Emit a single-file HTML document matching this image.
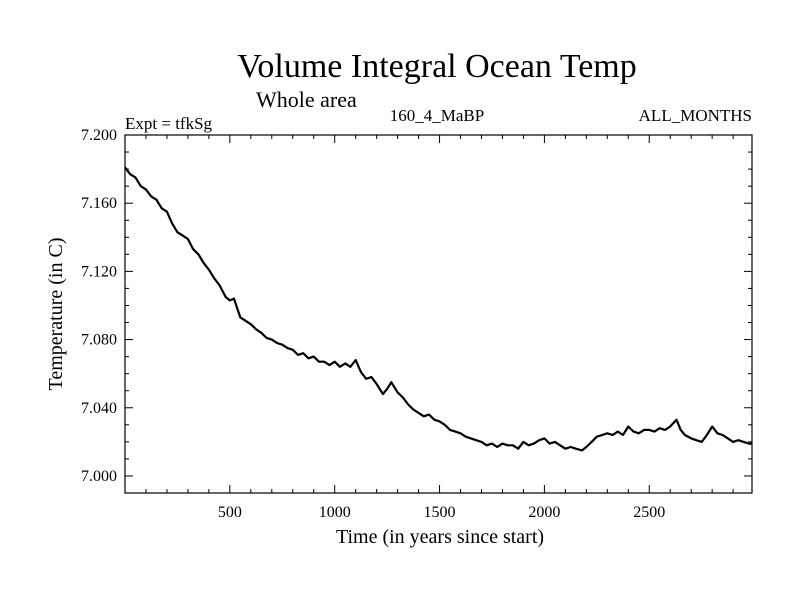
<!DOCTYPE html>
<html><head><meta charset="utf-8"><style>
html,body{margin:0;padding:0;background:#fff;}
svg{display:block;font-family:"Liberation Serif",serif;}
</style></head><body>
<svg id="chart" width="800" height="600" xmlns="http://www.w3.org/2000/svg">
<text x="437" y="77" font-size="34" text-anchor="middle">Volume Integral Ocean Temp</text>
<text x="256" y="107" font-size="22">Whole area</text>
<text x="125" y="129" font-size="17">Expt = tfkSg</text>
<text x="437" y="121" font-size="17" text-anchor="middle">160_4_MaBP</text>
<text x="752" y="121" font-size="17" text-anchor="end">ALL_MONTHS</text>
<text x="440" y="543" font-size="20" text-anchor="middle">Time (in years since start)</text>
<text transform="translate(62,314) rotate(-90)" font-size="20" text-anchor="middle">Temperature (in C)</text>
<g id="axes"></g>
<g id="series"></g>
<rect x="125" y="135" width="627" height="358" fill="none" stroke="#000" stroke-width="1.2"/>
</svg>
<script>
const years = [0,25,50,75,100,125,150,175,200,225,250,275,300,325,350,375,400,425,450,480,500,520,550,575,600,625,650,675,700,725,750,775,800,825,850,875,900,925,950,975,1000,1025,1050,1075,1100,1125,1150,1175,1200,1230,1250,1270,1300,1325,1350,1375,1400,1425,1450,1475,1500,1525,1550,1575,1600,1625,1650,1675,1700,1725,1750,1775,1800,1825,1850,1875,1900,1925,1950,1975,2000,2025,2050,2075,2100,2125,2150,2180,2200,2225,2250,2275,2300,2325,2350,2375,2400,2425,2450,2475,2500,2525,2550,2575,2600,2630,2650,2670,2700,2725,2750,2775,2800,2825,2850,2875,2900,2925,2950,2975,2990];
const temps = [7.181,7.177,7.175,7.170,7.168,7.164,7.162,7.157,7.155,7.148,7.143,7.141,7.139,7.133,7.130,7.125,7.121,7.116,7.112,7.105,7.103,7.104,7.093,7.091,7.089,7.086,7.084,7.081,7.080,7.078,7.077,7.075,7.074,7.071,7.072,7.069,7.070,7.067,7.067,7.065,7.067,7.064,7.066,7.064,7.068,7.061,7.057,7.058,7.054,7.048,7.051,7.055,7.049,7.046,7.042,7.039,7.037,7.035,7.036,7.033,7.032,7.030,7.027,7.026,7.025,7.023,7.022,7.021,7.020,7.018,7.019,7.017,7.019,7.018,7.018,7.016,7.020,7.018,7.019,7.021,7.022,7.019,7.020,7.018,7.016,7.017,7.016,7.015,7.017,7.020,7.023,7.024,7.025,7.024,7.026,7.024,7.029,7.026,7.025,7.027,7.027,7.026,7.028,7.027,7.029,7.033,7.027,7.024,7.022,7.021,7.020,7.024,7.029,7.025,7.024,7.022,7.020,7.021,7.020,7.019,7.019];
const xTicks = [500,1000,1500,2000,2500];
const yTicks = [7.000,7.040,7.080,7.120,7.160,7.200];
const X0=125,X1=752,Y0=135,Y1=493,XMIN=0,XMAX=2990,YMIN=6.99,YMAX=7.2;
const sx=v=>X0+(v-XMIN)/(XMAX-XMIN)*(X1-X0);
const sy=v=>Y1-(v-YMIN)/(YMAX-YMIN)*(Y1-Y0);
const NS="http://www.w3.org/2000/svg";
const axes=document.getElementById('axes');
function ln(x1,y1,x2,y2,name){const l=document.createElementNS(NS,'line');l.setAttribute('x1',x1);l.setAttribute('y1',y1);l.setAttribute('x2',x2);l.setAttribute('y2',y2);l.setAttribute('stroke','#000');l.setAttribute('stroke-width','1');


axes.appendChild(l);}
for(let t=100;t<XMAX;t+=100){const major=t%500===0;const L=major?8:4;ln(sx(t),Y1,sx(t),Y1-L,'x-tick');ln(sx(t),Y0,sx(t),Y0+L,'x-tick-top');}
for(let v=7.0;v<=7.2001;v+=0.01){const major=Math.round(v*1000)%40===0;const L=major?8:4;ln(X0,sy(v),X0+L,sy(v),'y-tick');ln(X1,sy(v),X1-L,sy(v),'y-tick-right');}
xTicks.forEach(t=>{const e=document.createElementNS(NS,'text');e.setAttribute('x',sx(t));e.setAttribute('y',Y1+24);e.setAttribute('font-size','16');e.setAttribute('text-anchor','middle');e.textContent=t;


axes.appendChild(e);});
yTicks.forEach(v=>{const e=document.createElementNS(NS,'text');e.setAttribute('x',X0-8);e.setAttribute('y',sy(v)+5);e.setAttribute('font-size','16');e.setAttribute('text-anchor','end');e.textContent=v.toFixed(3);


axes.appendChild(e);});
const p=document.createElementNS(NS,'polyline');
p.setAttribute('points',years.map((y,i)=>sx(y).toFixed(1)+','+sy(temps[i]).toFixed(1)).join(' '));
p.setAttribute('fill','none');p.setAttribute('stroke','#000');p.setAttribute('stroke-width','2.2');p.setAttribute('stroke-linejoin','round');


document.getElementById('series').appendChild(p);
</script>
</body></html>
